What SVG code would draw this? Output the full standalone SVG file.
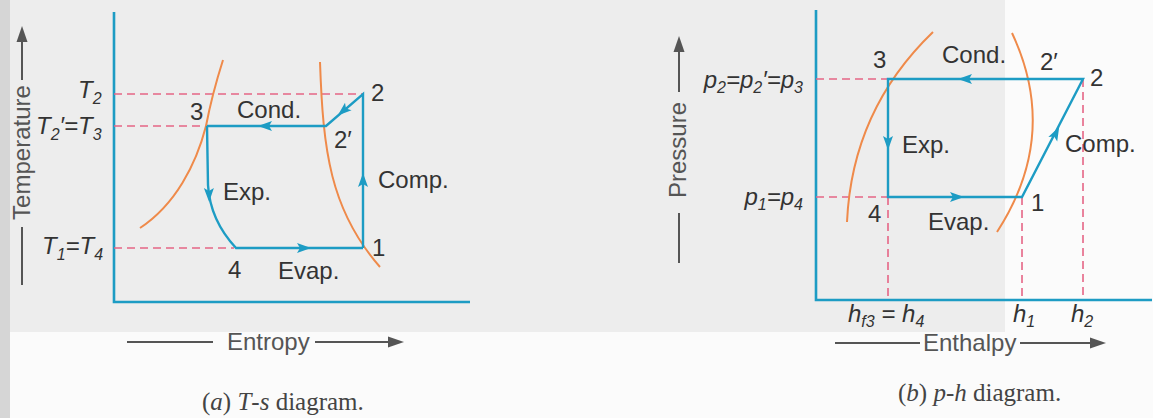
<svg xmlns="http://www.w3.org/2000/svg" xmlns:xlink="http://www.w3.org/1999/xlink" width="1153" height="418" viewBox="0 0 1153 418">
<style>
.ax{fill:none;stroke:#1d9cc4;stroke-width:2.6}
.cy{fill:none;stroke:#1d9cc4;stroke-width:2.4}
.sat{fill:none;stroke:#ef8a4a;stroke-width:2}
.dash{fill:none;stroke:#e56585;stroke-width:1.6;stroke-dasharray:8 5}
.ah{fill:#1d9cc4}
.lb{font-family:"Liberation Sans",Arial,sans-serif;font-size:24px;fill:#333}
.it{font-family:"Liberation Sans",Arial,sans-serif;font-size:24px;font-style:italic;fill:#333}
.sub{font-size:16px}
.axl{font-family:"Liberation Sans",Arial,sans-serif;font-size:24px;fill:#555}
.axline{stroke:#555;stroke-width:2;fill:none}
.cap{font-family:"Liberation Serif","Times New Roman",serif;font-size:25px;fill:#444}
</style>
<defs>
<path id="arr" class="ah" d="M7,0 L-7,-5 L-4,0 L-7,5 Z"/>
<path id="garr" d="M8,0 L-8,-5.5 L-8,5.5 Z" fill="#555"/>
</defs>
<rect width="1153" height="418" fill="#fbfbfb"/>
<rect x="0" y="0" width="1005" height="332" fill="#ededed"/>
<rect x="0" y="0" width="10" height="418" fill="#d6d6d6"/>

<!-- T-s diagram -->
<g id="ts-diagram">
  <g id="ts-axes"><path class="ax" d="M114,12 V302 H470"/></g>
  <g id="ts-dashed">
    <path class="dash" d="M114,94 H363"/>
    <path class="dash" d="M114,126 H207"/>
    <path class="dash" d="M114,248 H234"/>
  </g>
  <g id="ts-saturation">
    <path class="sat" d="M140,228 C175,205 196,165 206,126 C210,105 216,82 223,60"/>
    <path class="sat" d="M320,62 C323,150 330,210 380,267"/>
  </g>
  <g id="ts-connectors">
    <path class="cy" d="M363,248 V94 L326,126 H207"/>
    <path class="cy" d="M207,126 L208,185 Q210,220 236,248 H363"/>
    <use xlink:href="#arr" transform="translate(363,180) rotate(-90)"/>
    <use xlink:href="#arr" transform="translate(343,111) rotate(139)"/>
    <use xlink:href="#arr" transform="translate(265,126) rotate(180)"/>
    <use xlink:href="#arr" transform="translate(209,195) rotate(89)"/>
    <use xlink:href="#arr" transform="translate(304,248)"/>
  </g>
  <g id="ts-labels">
    <text class="it" x="78" y="98">T<tspan class="sub" dy="6">2</tspan></text>
    <text class="it" x="36" y="134">T<tspan class="sub" dy="6">2</tspan><tspan dy="-6">′=T</tspan><tspan class="sub" dy="6">3</tspan></text>
    <text class="it" x="42" y="254">T<tspan class="sub" dy="6">1</tspan><tspan dy="-6">=T</tspan><tspan class="sub" dy="6">4</tspan></text>
    <text class="lb" x="190" y="120">3</text>
    <text class="lb" x="237" y="118">Cond.</text>
    <text class="lb" x="371" y="101">2</text>
    <text class="lb" x="334" y="148">2′</text>
    <text class="lb" x="378" y="188">Comp.</text>
    <text class="lb" x="223" y="200">Exp.</text>
    <text class="lb" x="372" y="256">1</text>
    <text class="lb" x="228" y="278">4</text>
    <text class="lb" x="278" y="279">Evap.</text>
  </g>
  <g id="ts-axis-titles">
    <path class="axline" d="M22,285 V227"/>
    <text class="axl" transform="translate(30,220) rotate(-90)" textLength="135" lengthAdjust="spacingAndGlyphs" fill="#777">Temperature</text>
    <path class="axline" d="M22,80 V40"/>
    <use xlink:href="#garr" transform="translate(22,34) rotate(-90)"/>
    <path class="axline" d="M127,342 H213"/>
    <text class="axl" x="227" y="350">Entropy</text>
    <path class="axline" d="M315,342 H396"/>
    <use xlink:href="#garr" transform="translate(396,342)"/>
    <text class="cap" x="202" y="410">(<tspan font-style="italic">a</tspan>) <tspan font-style="italic">T</tspan>-<tspan font-style="italic">s</tspan> diagram.</text>
  </g>
</g>

<!-- p-h diagram -->
<g id="ph-diagram">
  <g id="ph-axes"><path class="ax" d="M816,10 V300 H1152"/></g>
  <g id="ph-dashed">
    <path class="dash" d="M816,79 H888"/>
    <path class="dash" d="M816,197 H888"/>
    <path class="dash" d="M888,197 V300"/>
    <path class="dash" d="M1022,197 V300"/>
    <path class="dash" d="M1083,79 V300"/>
  </g>
  <g id="ph-saturation">
    <path class="sat" d="M847,222 Q852,110 933,32"/>
    <path class="sat" d="M1012,33 Q1060,135 997,232"/>
  </g>
  <g id="ph-connectors">
    <path class="cy" d="M1083,79 H888 V197 H1022 Z"/>
    <use xlink:href="#arr" transform="translate(965,79) rotate(180)"/>
    <use xlink:href="#arr" transform="translate(888,143) rotate(90)"/>
    <use xlink:href="#arr" transform="translate(957,197)"/>
    <use xlink:href="#arr" transform="translate(1056,133) rotate(-62.6)"/>
  </g>
  <g id="ph-labels">
    <text class="lb" x="873" y="68">3</text>
    <text class="lb" x="942" y="63">Cond.</text>
    <text class="lb" x="1040" y="70">2′</text>
    <text class="lb" x="1090" y="86">2</text>
    <text class="it" x="803" y="88" text-anchor="end">p<tspan class="sub" dy="5">2</tspan><tspan dy="-5">=p</tspan><tspan class="sub" dy="5">2</tspan><tspan dy="-5">′=p</tspan><tspan class="sub" dy="5">3</tspan></text>
    <text class="it" x="803" y="205" text-anchor="end">p<tspan class="sub" dy="5">1</tspan><tspan dy="-5">=p</tspan><tspan class="sub" dy="5">4</tspan></text>
    <text class="lb" x="902" y="153">Exp.</text>
    <text class="lb" x="1065" y="152">Comp.</text>
    <text class="lb" x="868" y="222">4</text>
    <text class="lb" x="1031" y="211">1</text>
    <text class="lb" x="928" y="230">Evap.</text>
    <text class="it" x="848" y="322">h<tspan class="sub" dy="5">f3</tspan><tspan dy="-5"> = h</tspan><tspan class="sub" dy="5">4</tspan></text>
    <text class="it" x="1013" y="322">h<tspan class="sub" dy="5">1</tspan></text>
    <text class="it" x="1071" y="322">h<tspan class="sub" dy="5">2</tspan></text>
  </g>
  <g id="ph-axis-titles">
    <path class="axline" d="M679,263 V213"/>
    <text class="axl" transform="translate(686,198) rotate(-90)" fill="#444">Pressure</text>
    <path class="axline" d="M679,92 V50"/>
    <use xlink:href="#garr" transform="translate(679,44) rotate(-90)"/>
    <path class="axline" d="M835,343 H920"/>
    <text class="axl" x="923" y="351">Enthalpy</text>
    <path class="axline" d="M1020,343 H1098"/>
    <use xlink:href="#garr" transform="translate(1098,343)"/>
    <text class="cap" x="898" y="401">(<tspan font-style="italic">b</tspan>) <tspan font-style="italic">p</tspan>-<tspan font-style="italic">h</tspan> diagram.</text>
  </g>
</g>
</svg>
